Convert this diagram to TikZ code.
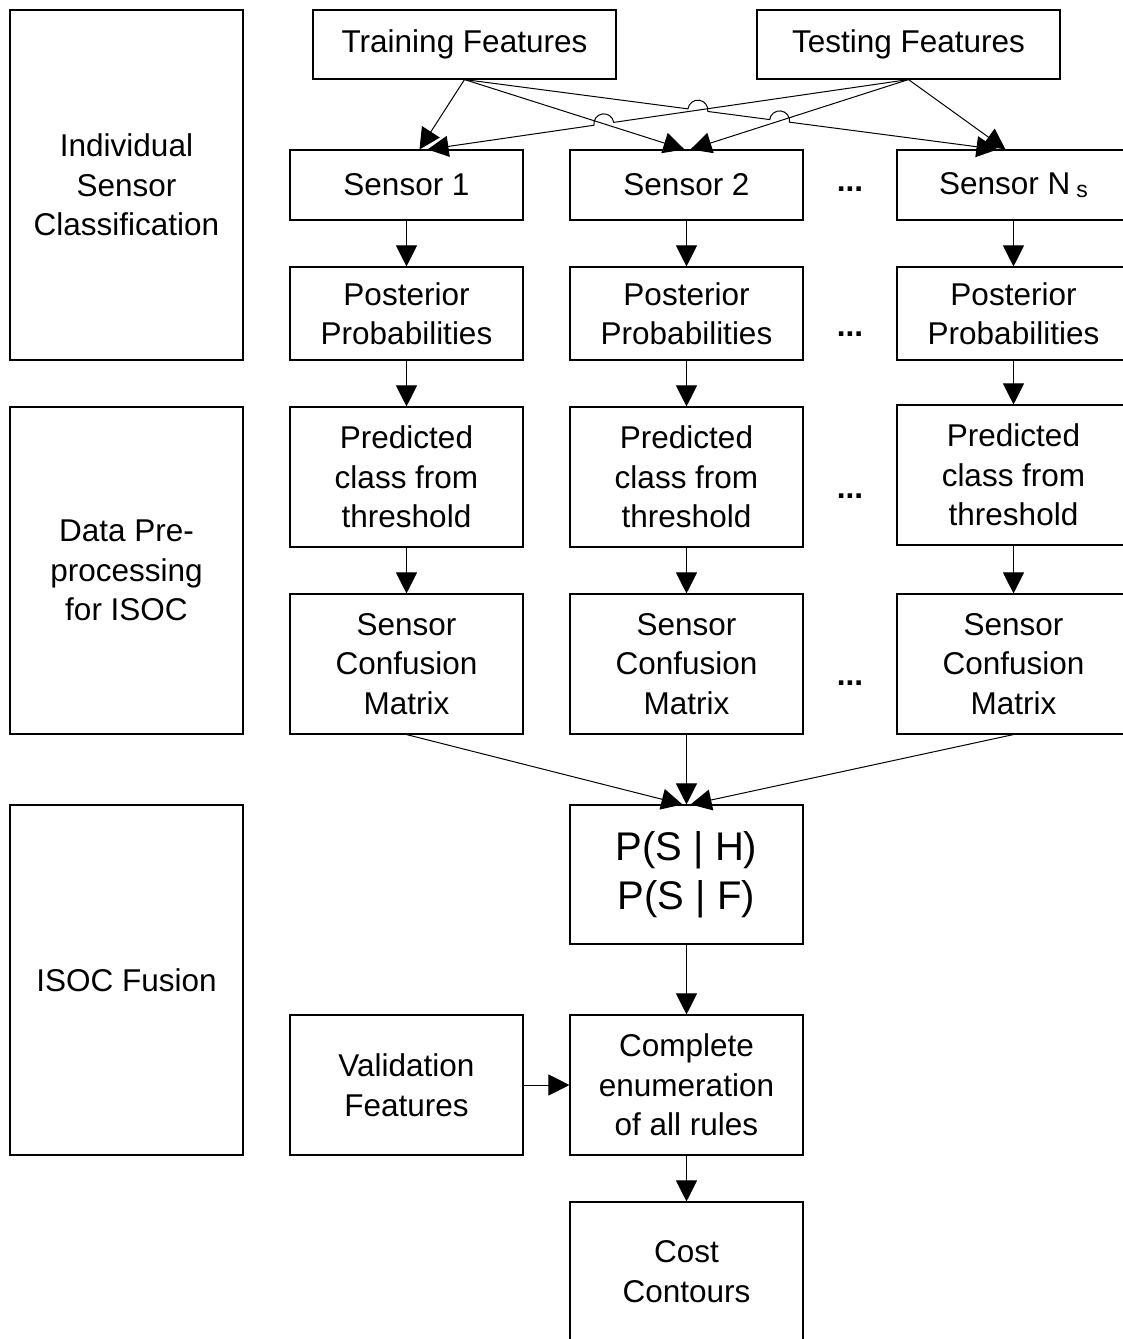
\documentclass[tikz,border=0pt]{standalone}
\usepackage{fontspec}
\setmainfont{Liberation Sans}
\usetikzlibrary{arrows.meta,calc,intersections}
\begin{document}
\begin{tikzpicture}[x=1pt,y=-1pt,
  box/.style={draw,line width=1.1pt,inner sep=0pt,align=center,minimum width=233pt,font=\fontsize{31.5}{39.5}\selectfont},
  arr/.style={line width=1pt,-{Triangle[length=21pt,width=21pt]}},
  dots/.style={inner sep=0pt,font=\fontsize{31.5}{39.5}\selectfont\bfseries}]
\useasboundingbox (0,0) rectangle (1123,1339);
\fill[white] (0,0) rectangle (1123,1339);
\clip (0,0) rectangle (1123,1339);

% left labels
\node[box,minimum height=350pt] (lab1) at (126.5,185) {Individual\\Sensor\\Classification};
\node[box,minimum height=327pt] (lab2) at (126.5,570.5) {Data Pre-\\processing\\for ISOC};
\node[box,minimum height=350pt] (lab3) at (126.5,980) {ISOC Fusion};

% features
\node[box,minimum width=303pt,minimum height=69pt] (tr) at (464.5,44.5) {Training Features};
\node[box,minimum width=303pt,minimum height=69pt] (te) at (908.5,44.5) {Testing Features};

% sensors
\node[box,minimum height=70pt] (s1) at (406.5,185) {Sensor 1};
\node[box,minimum height=70pt] (s2) at (686.5,185) {Sensor 2};
\node[box,minimum height=70pt] (s3) at (1013.5,185) {Sensor N\hspace{6pt}\raisebox{-3pt}{\fontsize{23}{23}\selectfont s}};

% posterior
\node[box,minimum height=93pt] (p1) at (406.5,313.5) {Posterior\\Probabilities};
\node[box,minimum height=93pt] (p2) at (686.5,313.5) {Posterior\\Probabilities};
\node[box,minimum height=93pt] (p3) at (1013.5,313.5) {Posterior\\Probabilities};

% predicted
\node[box,minimum height=140pt] (c1) at (406.5,477) {Predicted\\class from\\threshold};
\node[box,minimum height=140pt] (c2) at (686.5,477) {Predicted\\class from\\threshold};
\node[box,minimum height=140pt] (c3) at (1013.5,475) {Predicted\\class from\\threshold};

% confusion
\node[box,minimum height=140pt] (m1) at (406.5,664) {Sensor\\Confusion\\Matrix};
\node[box,minimum height=140pt] (m2) at (686.5,664) {Sensor\\Confusion\\Matrix};
\node[box,minimum height=140pt] (m3) at (1013.5,664) {Sensor\\Confusion\\Matrix};

% fusion
\node[box,minimum height=139pt,font=\fontsize{40}{49}\selectfont] (psh) at (686.5,874.5) {P(S | H)\\P(S | F)};
\node[box,minimum height=140pt] (val) at (406.5,1085) {Validation\\Features};
\node[box,minimum height=140pt] (ce) at (686.5,1085) {Complete\\enumeration\\of all rules};
\node[box,minimum height=139pt] (cost) at (686.5,1271.5) {Cost\\Contours};

% dots
\node[dots] (d1) at (850,189) {...};
\node[dots] (d2) at (850,334) {...};
\node[dots] (d3) at (850,496) {...};
\node[dots] (d4) at (850,683) {...};

% fan-out targets
\coordinate (t1a) at ($(s1.north)+(13,0)$);
\coordinate (t1b) at ($(s1.north)+(21,0)$);
\coordinate (t2a) at ($(s2.north)+(-2,0)$);
\coordinate (t2b) at ($(s2.north)+(4,0)$);
\coordinate (t3a) at ($(s3.north)+(-16,0)$);
\coordinate (t3b) at ($(s3.north)+(-8,0)$);

\path[name path=L1] (tr.south) -- (t2a);
\path[name path=L2] (te.south) -- (t1b);
\path[name path=L3] (tr.south) -- (t3a);
\path[name path=L4] (te.south) -- (t2b);
\path[name intersections={of=L1 and L2, by=X1}];
\path[name intersections={of=L3 and L2, by=X2}];
\path[name intersections={of=L3 and L4, by=X3}];

\draw[arr] (tr.south) -- (t1a);
\draw[arr] (tr.south) -- (t2a);
\draw[arr] (te.south) -- (t2b);
\draw[arr] (te.south) -- (t3b);
% Testing -> Sensor 1 hops over Training -> Sensor 2
\draw[arr] let \p1=($(t1b)-(te.south)$), \n1={atan2(\y1,\x1)} in
  (te.south) -- ($(X1)!10pt!(te.south)$) arc[start angle=\n1-180, end angle=\n1, radius=10pt] -- (t1b);
% Training -> Sensor Ns hops twice
\draw[arr] let \p1=($(t3a)-(tr.south)$), \n1={atan2(\y1,\x1)} in
  (tr.south) -- ($(X2)!10pt!(tr.south)$) arc[start angle=\n1+180, end angle=\n1, radius=10pt]
  -- ($(X3)!10pt!(tr.south)$) arc[start angle=\n1+180, end angle=\n1, radius=10pt] -- (t3a);

% vertical chains
\foreach \i in {1,2,3}{
  \draw[arr] (s\i.south) -- (p\i.north);
  \draw[arr] (p\i.south) -- (c\i.north);
  \draw[arr] (c\i.south) -- (m\i.north);
}
\draw[arr] (m1.south) -- ($(psh.north)+(-4,0)$);
\draw[arr] (m2.south) -- (psh.north);
\draw[arr] (m3.south) -- ($(psh.north)+(4,0)$);
\draw[arr] (psh.south) -- (ce.north);
\draw[arr] (val.east) -- (ce.west);
\draw[arr] (ce.south) -- (cost.north);
\end{tikzpicture}
\end{document}
